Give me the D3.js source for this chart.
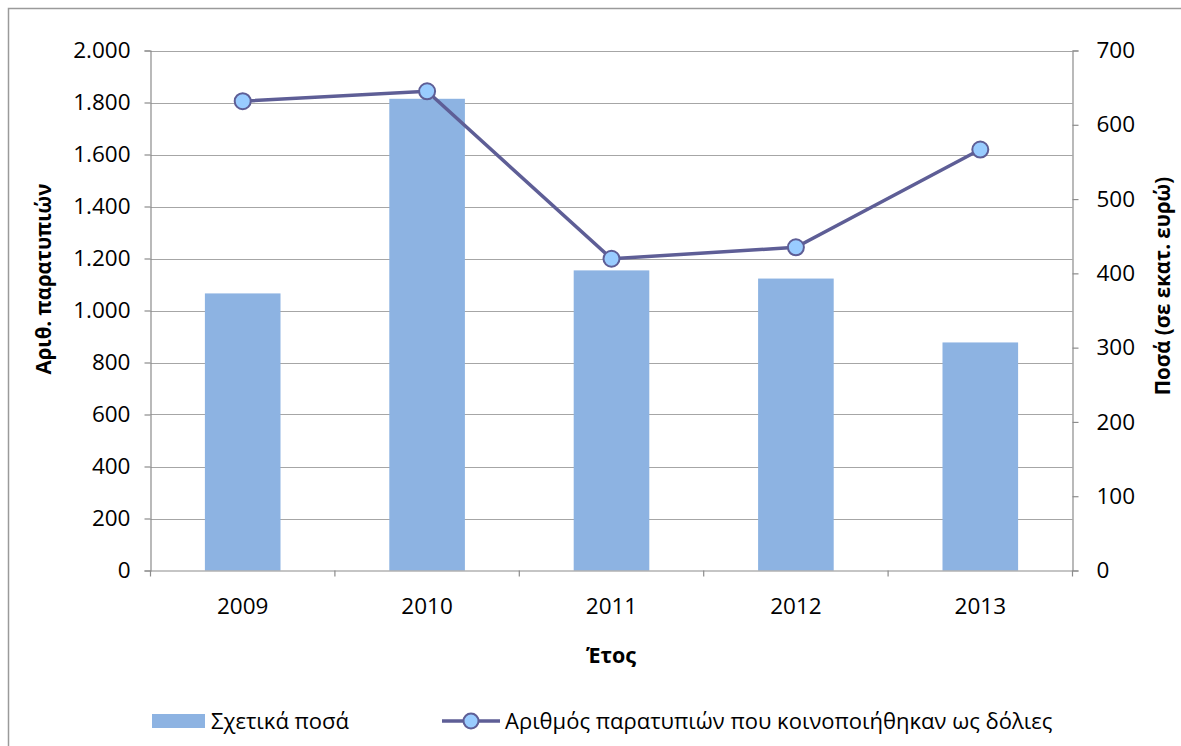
<!DOCTYPE html>
<html><head><meta charset="utf-8">
<script src="https://cdn.jsdelivr.net/npm/d3@7"></script>
<style>body{margin:0;background:#fff}svg{display:block}text{font-family:"Open Sans",sans-serif;fill:#000}</style>
</head><body><svg id="c" width="1181" height="746"></svg>
<script>
const years = ["2009","2010","2011","2012","2013"];
const amounts = [373, 635, 404, 393, 307];          // Σχετικά ποσά (right axis, εκατ. ευρώ)
const irregularities = [1805, 1843, 1199, 1243, 1619]; // Αριθμός παρατυπιών (left axis)
const leftTicks = [0,200,400,600,800,1000,1200,1400,1600,1800,2000];
const rightTicks = [0,100,200,300,400,500,600,700];
const barLabel = "Σχετικά ποσά";
const lineLabel = "Αριθμός παρατυπιών που κοινοποιήθηκαν ως δόλιες";

const svg = d3.select("#c");
const L = 150.5, R = 1072.5, T = 50.5, B = 570.5;
const x = d3.scaleBand().domain(years).range([L, R]).paddingInner(0.59).paddingOuter(0.295);
const xc = d3.scaleBand().domain(years).range([L, R]);
const yL = d3.scaleLinear().domain([0,2000]).range([B, T]);
const yR = d3.scaleLinear().domain([0,700]).range([B, T]);
const fmt = v => d3.format(",")(v).replace(/,/g, ".");

svg.append("rect").attr("x",8.5).attr("y",8.5).attr("width",1190).attr("height",760)
  .attr("fill","none").attr("stroke","#9a9a9a").attr("stroke-width",1.5);

// gridlines
svg.append("g").selectAll("line").data(leftTicks.slice(1)).join("line")
  .attr("x1",L).attr("x2",R).attr("y1",d=>Math.round(yL(d))+0.5).attr("y2",d=>Math.round(yL(d))+0.5)
  .attr("stroke","#a6a6a6").attr("stroke-width",1.2);

// bars
svg.append("g").selectAll("rect").data(years).join("rect")
  .attr("x",d=>x(d)).attr("width",x.bandwidth())
  .attr("y",(d,i)=>yR(amounts[i])).attr("height",(d,i)=>B - yR(amounts[i]))
  .attr("fill","#8db3e2");

// axes
const axL = svg.append("g").attr("transform",`translate(${L},0)`)
  .call(d3.axisLeft(yL).tickValues(leftTicks).tickFormat(fmt).tickSize(6).tickPadding(14));
const axR = svg.append("g").attr("transform",`translate(${R},0)`)
  .call(d3.axisRight(yR).tickValues(rightTicks).tickSize(6).tickPadding(18));
const axB = svg.append("g").attr("transform",`translate(0,${B})`)
  .call(d3.axisBottom(xc).tickSize(0).tickPadding(28));
[axL,axR,axB].forEach(a=>{
  a.select(".domain").attr("stroke","#8c8c8c").attr("stroke-width",1.2);
  a.selectAll(".tick line").attr("stroke","#8c8c8c").attr("stroke-width",1.2);
  a.selectAll("text").attr("font-size",22.5).attr("fill","#000").attr("font-family","'Open Sans',sans-serif");
});
// category boundary ticks on x axis
svg.append("g").selectAll("line").data(d3.range(years.length+1)).join("line")
  .attr("x1",i=>L + i*xc.step()).attr("x2",i=>L + i*xc.step())
  .attr("y1",B).attr("y2",B+6).attr("stroke","#8c8c8c").attr("stroke-width",1.2);

// line
const line = d3.line().x((d,i)=>xc(years[i])+xc.bandwidth()/2).y(d=>yL(d));
svg.append("path").datum(irregularities).attr("d",line)
  .attr("fill","none").attr("stroke","#5e5e96").attr("stroke-width",3.5);
svg.append("g").selectAll("circle").data(irregularities).join("circle")
  .attr("cx",(d,i)=>xc(years[i])+xc.bandwidth()/2).attr("cy",d=>yL(d)).attr("r",8)
  .attr("fill","#99ccff").attr("stroke","#5e5e96").attr("stroke-width",2);

// axis titles
svg.append("text").attr("transform","translate(51,279) rotate(-90)").attr("text-anchor","middle")
  .attr("font-size",20.5).attr("font-weight","bold").text("Αριθ. παρατυπιών");
svg.append("text").attr("transform","translate(1170,286) rotate(-90)").attr("text-anchor","middle")
  .attr("font-size",20.5).attr("font-weight","bold").text("Ποσά (σε εκατ. ευρώ)");
svg.append("text").attr("x",611).attr("y",663).attr("text-anchor","middle")
  .attr("font-size",21.5).attr("font-weight","bold").text("Έτος");

// legend
const lg = svg.append("g");
lg.append("rect").attr("x",152).attr("y",714).attr("width",53).attr("height",14).attr("fill","#8db3e2");
lg.append("text").attr("x",211).attr("y",729).attr("font-size",22).text(barLabel);
lg.append("line").attr("x1",442).attr("x2",500).attr("y1",721).attr("y2",721)
  .attr("stroke","#5e5e96").attr("stroke-width",3.5);
lg.append("circle").attr("cx",471).attr("cy",721).attr("r",7.5)
  .attr("fill","#99ccff").attr("stroke","#5e5e96").attr("stroke-width",2);
lg.append("text").attr("x",505).attr("y",729).attr("font-size",22).text(lineLabel);
</script></body></html>
